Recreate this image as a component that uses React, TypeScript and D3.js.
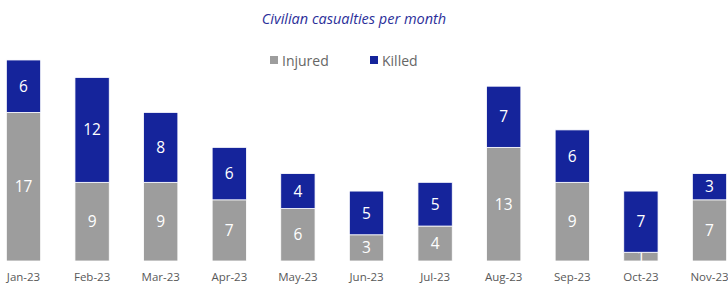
import { useEffect, useRef } from "react";
import * as d3 from "d3";

const months = ["Jan-23", "Feb-23", "Mar-23", "Apr-23", "May-23", "Jun-23", "Jul-23", "Aug-23", "Sep-23", "Oct-23", "Nov-23"];
const injured = [17, 9, 9, 7, 6, 3, 4, 13, 9, 1, 7];
const killed = [6, 12, 8, 6, 4, 5, 5, 7, 6, 7, 3];
const seriesNames = ["Injured", "Killed"];
const colors = ["#9d9d9d", "#15249b"];

const App = () => {
  const svgRef = useRef<SVGSVGElement>(null);

  useEffect(() => {
    const svg = d3.select(svgRef.current);
    svg.selectAll("*").remove();

    const font = "'Open Sans', sans-serif";
    const step = 68.6;
    const x = d3
      .scaleBand()
      .domain(months)
      .range([23.5 - step / 2, 23.5 - step / 2 + step * months.length])
      .paddingInner(0.5)
      .paddingOuter(0.25);
    const y = d3.scaleLinear().domain([0, 25]).range([261, 42.5]);

    const rows = months.map((m, i) => ({ month: m, Injured: injured[i], Killed: killed[i] }));
    const stacked = d3.stack<any>().keys(seriesNames)(rows);

    // title
    svg.append("text")
      .attr("x", 354)
      .attr("y", 24)
      .attr("text-anchor", "middle")
      .attr("font-family", font)
      .attr("font-style", "italic")
      .attr("font-size", 14.5)
      .attr("fill", "#2b2f9a")
      .text("Civilian casualties per month");

    // legend
    const legend = svg.append("g").attr("font-family", font).attr("font-size", 14).attr("fill", "#666");
    [270, 370].forEach((lx, i) => {
      legend.append("rect").attr("x", lx).attr("y", 56).attr("width", 8).attr("height", 8).attr("fill", colors[i]);
      legend.append("text").attr("x", lx + 12).attr("y", 66).text(seriesNames[i]);
    });

    // bars + labels, series by series
    stacked.forEach((layer, si) => {
      const g = svg.append("g");
      g.selectAll("rect")
        .data(layer)
        .enter()
        .append("rect")
        .attr("x", (d: any) => x(d.data.month) || 0)
        .attr("y", (d) => y(d[1]))
        .attr("width", x.bandwidth())
        .attr("height", (d) => y(d[0]) - y(d[1]))
        .attr("fill", colors[si])
        .attr("stroke", "#fff")
        .attr("stroke-width", 0.8);
      g.selectAll("text")
        .data(layer)
        .enter()
        .append("text")
        .attr("x", (d: any) => (x(d.data.month) || 0) + x.bandwidth() / 2)
        .attr("y", (d) => (y(d[0]) + y(d[1])) / 2)
        .attr("dy", "0.36em")
        .attr("text-anchor", "middle")
        .attr("font-family", font)
        .attr("font-size", 15.5)
        .attr("fill", "#fff")
        .text((d) => d[1] - d[0]);
    });

    // x axis labels
    svg.append("g")
      .attr("transform", "translate(0,261)")
      .call(d3.axisBottom(x).tickSize(0).tickPadding(12))
      .call((g) => g.select(".domain").remove())
      .selectAll(".tick text")
      .attr("font-family", font)
      .attr("font-size", 11.5)
      .attr("fill", "#595959");
  }, []);

  return (
    <svg
      ref={svgRef}
      width={728}
      height={286}
      style={{ position: "absolute", left: 0, top: 0, background: "#fff" }}
    />
  );
};

export default App;
